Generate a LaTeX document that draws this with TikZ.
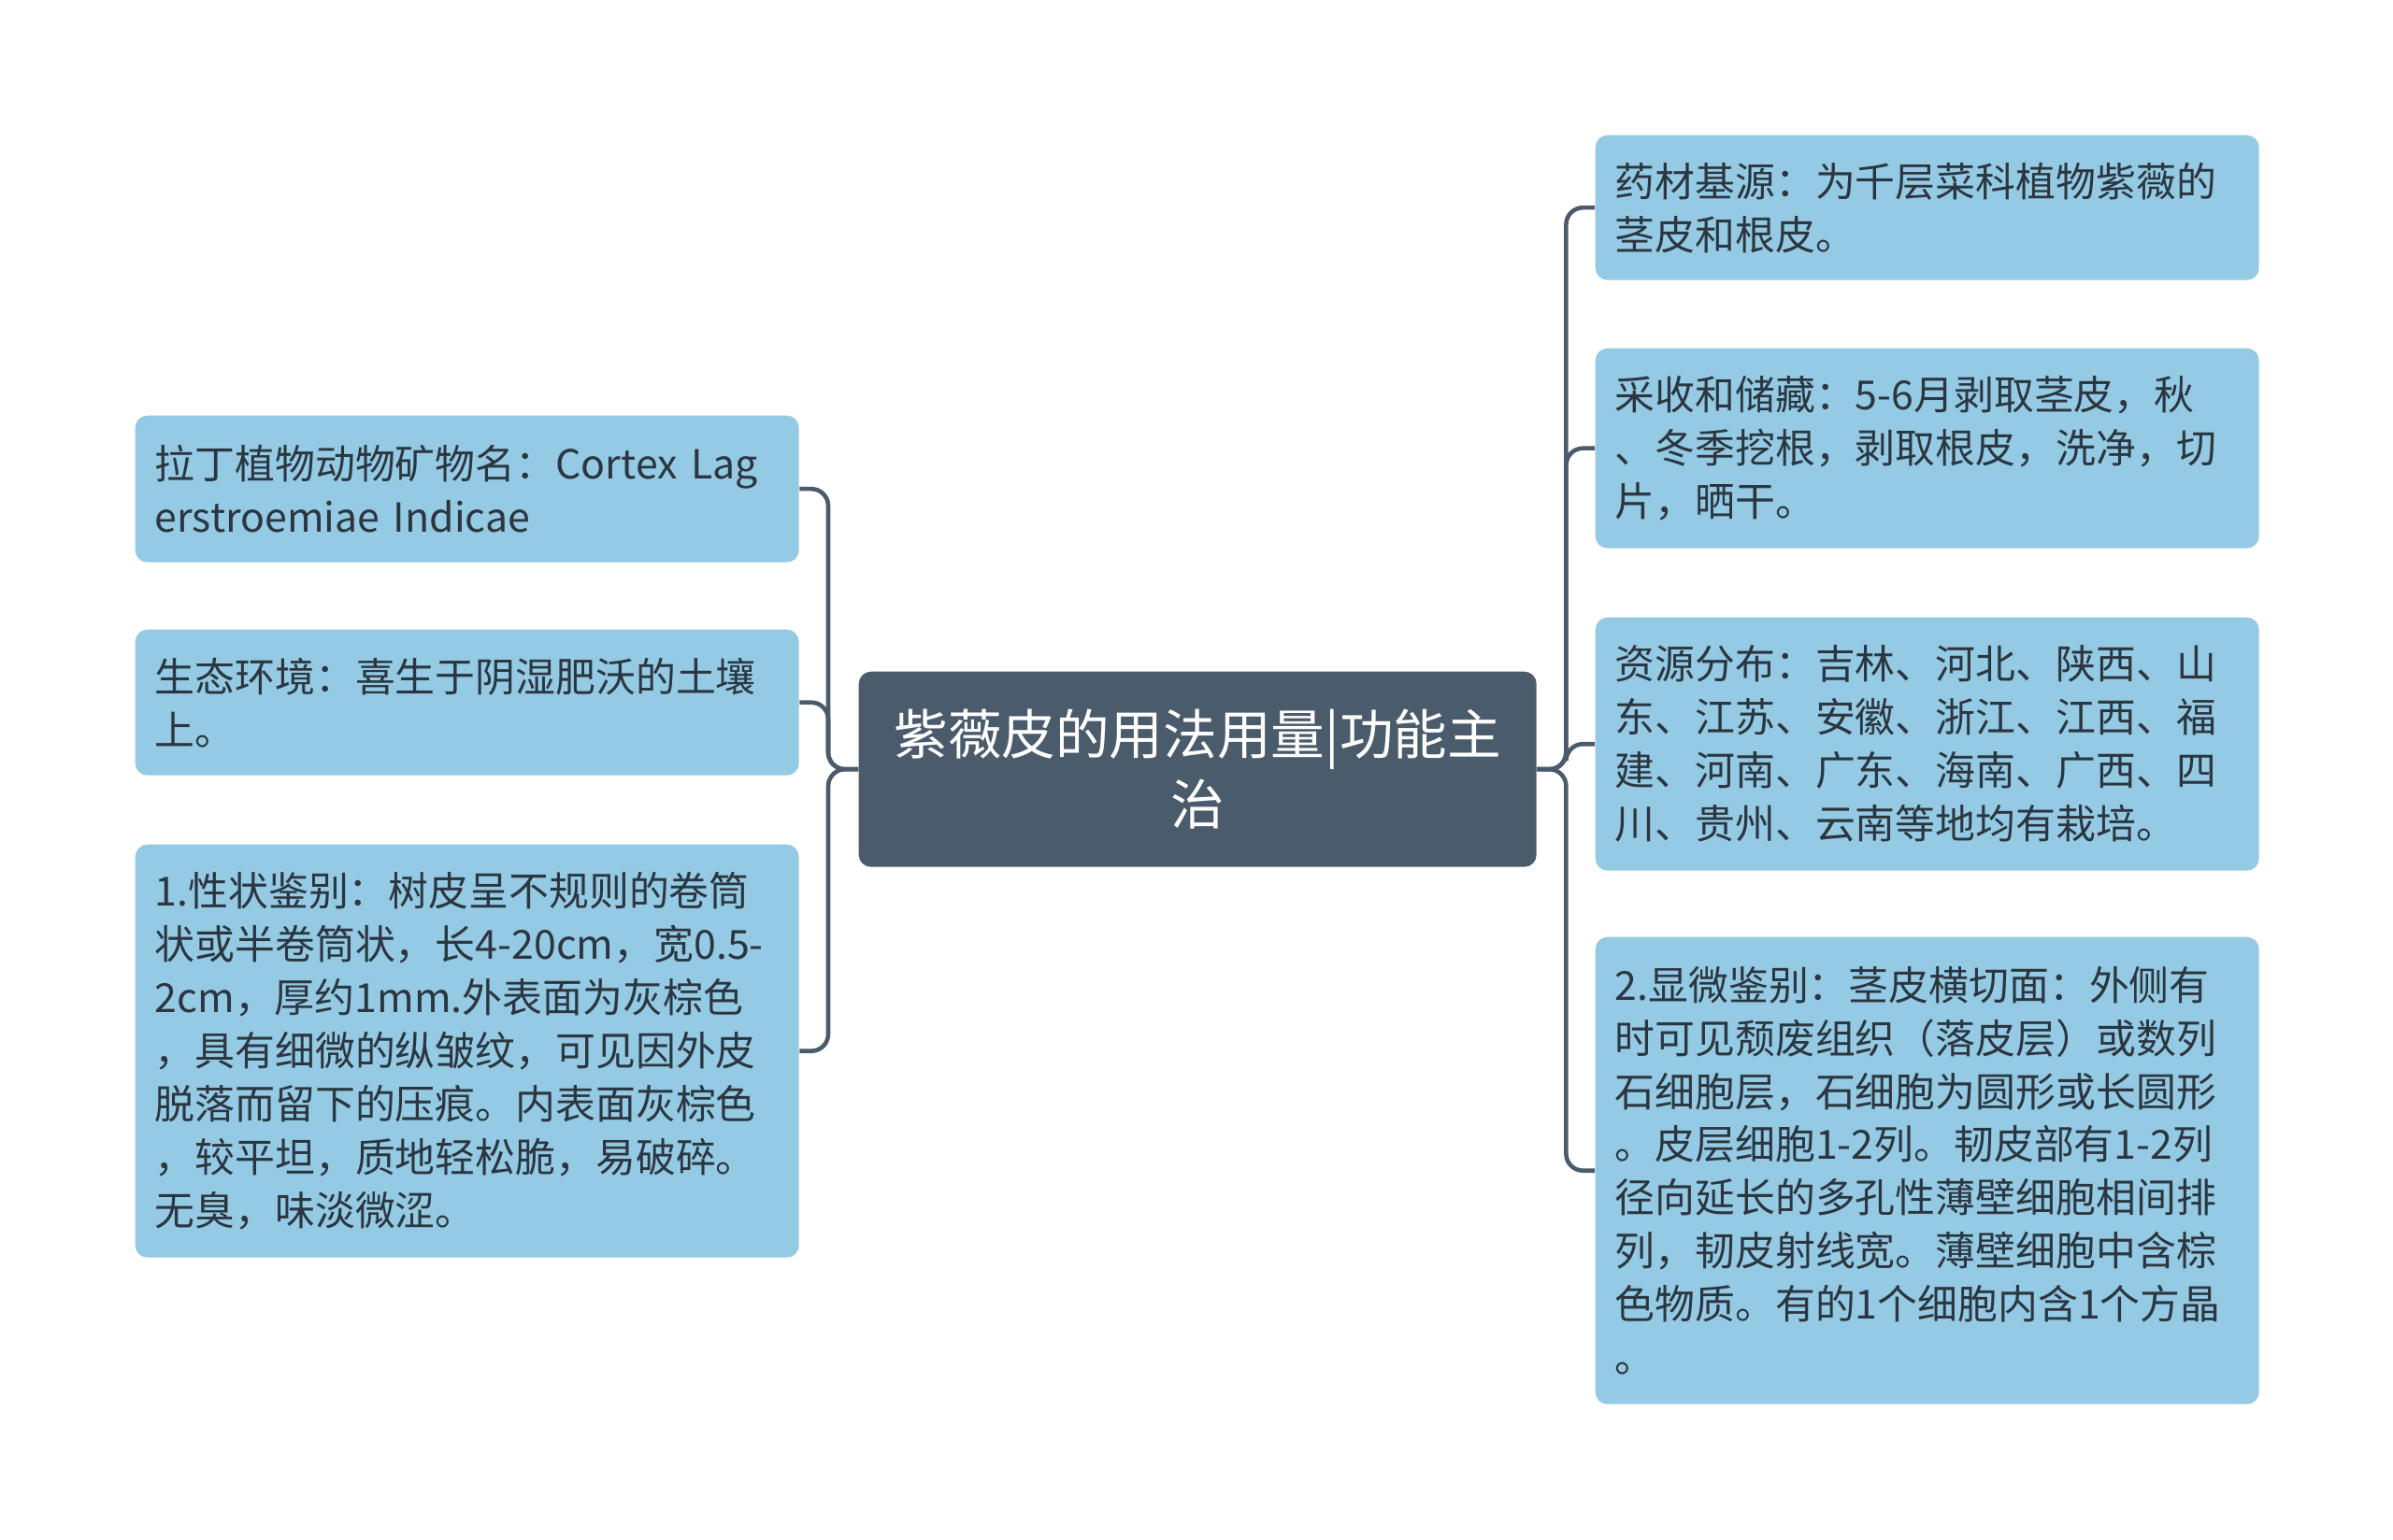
\documentclass[tikz,border=0pt]{standalone}
\usepackage{fontspec}
\setmainfont{Noto Sans CJK SC}
\usetikzlibrary{positioning}

\definecolor{rootfill}{HTML}{4A5B6B}
\definecolor{leaffill}{HTML}{94CAE3}
\definecolor{leaftext}{HTML}{2B3640}
\definecolor{linkcol}{HTML}{4A5B6B}

\tikzset{
    rootbox/.style={draw=none, fill=rootfill, rounded corners=0.13cm, anchor=north west,
        text=white, align=center, inner sep=0pt,
        font=\fontsize{16.4pt}{21.3pt}\selectfont},
    leafbox/.style={draw=none, fill=leaffill, rounded corners=0.13cm, anchor=north west,
        text=leaftext, align=left, inner xsep=0.21cm, inner ysep=0pt, text width=6.68cm,
        font=\fontsize{12.2pt}{16.2pt}\selectfont},
    link/.style={draw=linkcol, line width=1.3pt, rounded corners=0.18cm}
}

\begin{document}
\begin{tikzpicture}
    \useasboundingbox (0,0) rectangle (25.6,-16.48);

    % centre
    \node[rootbox, minimum width=7.25cm, minimum height=2.09cm] (root) at (9.18,-7.18)
        {紫薇皮的用法用量|功能主\\治};

    % left branch
    \node[leafbox, minimum width=7.10cm, minimum height=1.57cm] (latin) at (1.44,-4.44)
        {拉丁植物动物矿物名：Cortex Lag\\erstroemiae Indicae};
    \node[leafbox, minimum width=7.10cm, minimum height=1.56cm] (habitat) at (1.44,-6.73)
        {生态环境：喜生于阴湿肥沃的土壤\\上。};
    \node[leafbox, minimum width=7.10cm, minimum height=4.42cm] (shape) at (1.44,-9.03)
        {1.性状鉴别：树皮呈不规则的卷筒\\状或半卷筒状，长4-20cm，宽0.5-\\2cm，厚约1mm.外表面为灰棕色\\，具有细微的纵皱纹，可见因外皮\\脱落而留下的压痕。内表面灰棕色\\，较平坦，质地轻松脆，易破碎。\\无臭，味淡微涩。};

    % right branch
    \node[leafbox, minimum width=7.09cm, minimum height=1.55cm] (origin) at (17.06,-1.44)
        {药材基源：为千层菜科植物紫薇的\\茎皮和根皮。};
    \node[leafbox, minimum width=7.09cm, minimum height=2.14cm] (harvest) at (17.06,-3.72)
        {采收和储藏：5-6月剥取茎皮，秋\\、冬季挖根，剥取根皮，洗净，切\\片，晒干。};
    \node[leafbox, minimum width=7.09cm, minimum height=2.71cm] (spread) at (17.06,-6.60)
        {资源分布：吉林、河北、陕西、山\\东、江苏、安徽、浙江、江西、福\\建、河南、广东、海南、广西、四\\川、贵州、云南等地均有栽培。};
    \node[leafbox, minimum width=7.09cm, minimum height=5.00cm] (micro) at (17.06,-10.02)
        {2.显微鉴别：茎皮横切面：外侧有\\时可见颓废组织（落皮层）或数列\\石细胞层，石细胞为圆形或长圆形\\。皮层细胞1-2列。韧皮部有1-2列\\径向延长的多孔性薄壁细胞相间排\\列，韧皮射线宽。薄壁细胞中含棕\\色物质。有的1个细胞内含1个方晶\\。};

    % connectors
    \foreach \leaf in {latin, habitat, shape}
        \draw[link] (root.west) -- ++(-0.32,0) |- (\leaf.east);
    \foreach \leaf in {origin, harvest, spread, micro}
        \draw[link] (root.east) -- ++(0.31,0) |- (\leaf.west);
\end{tikzpicture}
\end{document}
